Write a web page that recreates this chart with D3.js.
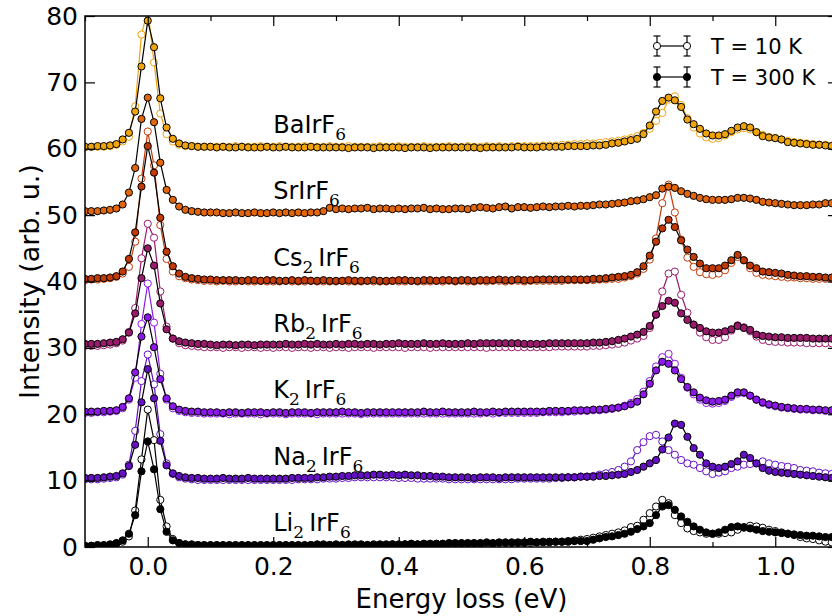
<!DOCTYPE html>
<html>
<head>
<meta charset="utf-8">
<script src="https://d3js.org/d3.v7.min.js"></script>
<style>
  body { margin: 0; background: #fff; }
  svg { display: block; font-family: "DejaVu Sans", sans-serif; }
</style>
</head>
<body>
<script>
var W = 832, H = 616;

// energy grid (eV)
var energy = [
 -0.10,-0.09,-0.08,-0.07,-0.06,-0.05,-0.04,-0.03,-0.02,-0.01,
 0.00,0.01,0.02,0.03,0.04,0.05,0.06,0.07,0.08,0.09,
 0.10,0.11,0.12,0.13,0.14,0.15,0.16,0.17,0.18,0.19,
 0.20,0.21,0.22,0.23,0.24,0.25,0.26,0.27,0.28,0.29,
 0.30,0.31,0.32,0.33,0.34,0.35,0.36,0.37,0.38,0.39,
 0.40,0.41,0.42,0.43,0.44,0.45,0.46,0.47,0.48,0.49,
 0.50,0.51,0.52,0.53,0.54,0.55,0.56,0.57,0.58,0.59,
 0.60,0.61,0.62,0.63,0.64,0.65,0.66,0.67,0.68,0.69,
 0.70,0.71,0.72,0.73,0.74,0.75,0.76,0.77,0.78,0.79,
 0.80,0.81,0.82,0.83,0.84,0.85,0.86,0.87,0.88,0.89,
 0.90,0.91,0.92,0.93,0.94,0.95,0.96,0.97,0.98,0.99,
 1.00,1.01,1.02,1.03,1.04,1.05,1.06,1.07,1.08,1.09,
 1.10];

// intensities without vertical offset, T = 300 K
var ba300 = [
 0.3,0.3,0.4,0.4,0.5,0.7,1.4,2.4,5.6,12.4,
 19.3,15.3,7.6,3.2,1.5,0.8,0.5,0.4,0.3,0.3,
 0.3,0.2,0.3,0.2,0.2,0.3,0.2,0.2,0.2,0.3,
 0.2,0.2,0.3,0.2,0.2,0.2,0.3,0.2,0.2,0.2,
 0.2,0.2,0.1,0.2,0.2,0.2,0.1,0.2,0.2,0.2,
 0.2,0.1,0.2,0.2,0.2,0.1,0.2,0.2,0.2,0.2,
 0.2,0.2,0.2,0.1,0.2,0.2,0.2,0.2,0.2,0.3,
 0.2,0.2,0.2,0.3,0.3,0.3,0.3,0.4,0.4,0.4,
 0.4,0.5,0.5,0.6,0.8,0.9,1.1,1.3,1.5,2.2,
 3.5,5.6,7.2,7.7,7.3,6.3,4.4,3.7,3.0,2.3,
 2.0,2.0,2.2,2.7,3.2,3.4,3.2,2.5,1.9,1.7,
 1.6,1.4,1.0,0.9,0.8,0.7,0.6,0.6,0.5,0.4,
 0.4];
var sr300 = [
 0.6,0.6,0.6,0.7,0.8,1.0,1.6,3.4,7.1,14.5,
 17.7,14.0,7.9,3.8,2.3,1.3,0.8,0.6,0.5,0.4,
 0.4,0.4,0.3,0.3,0.4,0.3,0.3,0.4,0.3,0.3,
 0.4,0.3,0.4,0.3,0.4,0.3,0.4,0.4,0.6,1.1,
 0.9,1.0,0.9,1.0,1.0,1.1,0.9,1.0,1.0,0.9,
 1.0,0.9,1.0,1.0,1.1,0.9,1.0,0.9,0.9,1.0,
 1.0,0.9,1.1,1.2,1.1,1.0,1.2,1.3,1.0,1.2,
 1.2,1.1,1.2,1.3,1.2,1.3,1.3,1.4,1.3,1.4,
 1.4,1.5,1.6,1.6,1.7,1.8,1.9,2.1,2.2,2.4,
 2.7,3.0,4.0,4.3,4.1,3.6,3.2,2.9,2.6,2.4,
 2.3,2.3,2.3,2.4,2.6,2.6,2.5,2.3,2.0,1.9,
 1.8,1.7,1.6,1.5,1.5,1.5,1.6,1.6,1.8,1.8,
 1.8];
var cs300 = [
 0.4,0.4,0.5,0.5,0.6,0.8,1.5,3.4,7.4,14.3,
 20.4,16.4,9.6,4.5,2.3,1.2,0.7,0.5,0.4,0.3,
 0.3,0.2,0.2,0.2,0.2,0.1,0.2,0.2,0.1,0.2,
 0.2,0.1,0.1,0.2,0.1,0.2,0.1,0.1,0.2,0.1,
 0.1,0.1,0.2,0.1,0.1,0.1,0.2,0.1,0.1,0.1,
 0.2,0.2,0.1,0.1,0.2,0.2,0.1,0.2,0.2,0.1,
 0.2,0.2,0.1,0.2,0.2,0.2,0.3,0.2,0.2,0.3,
 0.2,0.2,0.3,0.3,0.3,0.3,0.3,0.3,0.3,0.3,
 0.3,0.4,0.4,0.5,0.6,0.7,0.8,1.0,1.4,2.3,
 3.9,6.0,8.0,9.3,8.2,6.2,4.8,3.7,2.7,2.0,
 2.0,2.0,2.4,3.2,4.0,3.2,2.4,2.0,1.5,1.4,
 1.3,1.2,1.0,0.9,0.8,0.8,0.7,0.7,0.6,0.6,
 0.6];
var rb300 = [
 0.6,0.6,0.6,0.7,0.8,0.9,1.3,2.3,5.2,10.5,
 15.0,12.4,6.7,2.8,1.4,1.0,0.8,0.7,0.6,0.6,
 0.5,0.4,0.5,0.5,0.4,0.5,0.5,0.4,0.5,0.5,
 0.5,0.5,0.6,0.5,0.5,0.6,0.5,0.6,0.5,0.5,
 0.6,0.5,0.6,0.6,0.5,0.6,0.6,0.5,0.6,0.6,
 0.7,0.6,0.6,0.6,0.7,0.6,0.6,0.7,0.6,0.6,
 0.6,0.7,0.6,0.7,0.7,0.7,0.7,0.7,0.7,0.7,
 0.6,0.6,0.6,0.6,0.7,0.7,0.7,0.7,0.7,0.7,
 0.7,0.8,0.8,0.9,1.0,1.2,1.4,1.7,2.0,2.4,
 3.3,5.0,6.3,7.1,6.8,5.2,4.2,3.5,3.0,2.5,
 2.3,2.3,2.5,2.8,3.3,3.0,2.7,2.0,1.8,1.7,
 1.6,1.6,1.5,1.5,1.5,1.5,1.4,1.4,1.4,1.4,
 1.4];
var k300 = [
 0.4,0.4,0.4,0.5,0.5,0.6,1.1,2.4,6.3,11.7,
 14.6,10.1,5.3,2.4,1.2,0.7,0.5,0.4,0.4,0.3,
 0.3,0.3,0.2,0.3,0.3,0.2,0.3,0.3,0.3,0.2,
 0.3,0.3,0.2,0.3,0.3,0.3,0.2,0.3,0.3,0.3,
 0.3,0.4,0.3,0.3,0.2,0.3,0.3,0.3,0.3,0.3,
 0.3,0.3,0.3,0.3,0.4,0.3,0.3,0.4,0.3,0.3,
 0.3,0.3,0.4,0.3,0.3,0.4,0.3,0.4,0.4,0.4,
 0.4,0.4,0.4,0.4,0.5,0.5,0.5,0.5,0.6,0.6,
 0.6,0.7,0.7,0.8,0.9,1.0,1.2,1.5,1.9,3.0,
 4.6,6.6,7.9,7.6,6.6,5.3,4.1,3.3,2.5,2.1,
 1.9,2.0,2.2,2.8,3.3,3.3,2.8,2.2,1.8,1.5,
 1.3,1.1,1.0,0.9,0.8,0.8,0.7,0.7,0.6,0.6,
 0.6];
var na300 = [
 0.4,0.4,0.4,0.5,0.6,0.7,1.1,2.2,5.4,11.8,
 16.8,12.4,6.0,2.3,1.1,0.7,0.5,0.4,0.4,0.3,
 0.3,0.3,0.4,0.3,0.3,0.3,0.4,0.3,0.3,0.3,
 0.3,0.3,0.3,0.4,0.4,0.4,0.4,0.5,0.5,0.6,
 0.6,0.7,0.7,0.8,0.8,0.8,0.9,0.9,0.8,0.9,
 0.8,0.9,0.8,0.8,0.7,0.7,0.6,0.6,0.5,0.5,
 0.5,0.5,0.4,0.5,0.5,0.5,0.4,0.5,0.5,0.5,
 0.5,0.5,0.5,0.5,0.5,0.5,0.5,0.5,0.5,0.6,
 0.6,0.6,0.7,0.7,0.8,0.9,1.0,1.3,1.6,2.1,
 2.6,3.1,4.7,6.5,8.6,8.4,6.6,4.9,3.9,2.6,
 2.1,1.9,2.1,2.5,2.9,3.9,3.4,2.6,1.9,1.5,
 1.3,1.2,1.1,1.0,0.9,0.8,0.7,0.6,0.5,0.4,
 0.4];
var li300 = [
 0.2,0.2,0.3,0.3,0.4,0.6,1.0,2.0,4.8,11.4,
 15.9,11.7,5.7,2.3,1.0,0.6,0.4,0.4,0.3,0.3,
 0.3,0.3,0.3,0.3,0.3,0.3,0.3,0.3,0.3,0.3,
 0.3,0.3,0.3,0.3,0.3,0.3,0.3,0.4,0.4,0.3,
 0.4,0.3,0.4,0.4,0.4,0.3,0.4,0.4,0.4,0.4,
 0.4,0.4,0.5,0.4,0.5,0.5,0.5,0.5,0.6,0.6,
 0.6,0.6,0.6,0.6,0.7,0.6,0.7,0.7,0.7,0.7,
 0.7,0.8,0.7,0.8,0.8,0.8,0.8,0.8,0.9,0.9,
 0.9,1.1,1.3,1.5,1.6,1.8,2.0,2.3,2.7,3.1,
 3.6,4.8,6.1,6.3,5.6,4.6,3.8,3.1,2.6,2.2,
 2.0,2.2,2.6,3.0,3.1,3.0,2.8,2.6,2.4,2.3,
 2.2,2.1,2.0,1.9,1.8,1.7,1.7,1.6,1.5,1.5,
 1.5];

// T = 10 K (no 10 K scan for SrIrF6)
var ba10 = [
 0.2,0.3,0.3,0.3,0.4,0.6,1.1,1.8,6.4,17.2,
 21.0,13.0,5.3,2.2,1.1,0.6,0.4,0.4,0.3,0.3,
 0.3,0.3,0.3,0.3,0.4,0.3,0.3,0.3,0.4,0.3,
 0.3,0.4,0.3,0.3,0.3,0.4,0.3,0.3,0.3,0.4,
 0.3,0.3,0.4,0.3,0.3,0.3,0.3,0.4,0.3,0.3,
 0.4,0.3,0.3,0.3,0.4,0.3,0.3,0.3,0.4,0.3,
 0.3,0.4,0.3,0.3,0.4,0.3,0.4,0.3,0.4,0.4,
 0.4,0.4,0.4,0.5,0.5,0.5,0.6,0.6,0.7,0.7,
 0.8,0.8,0.9,1.0,1.1,1.2,1.4,1.6,1.9,2.4,
 3.0,4.2,5.4,7.4,7.9,6.6,4.6,3.2,2.3,1.7,
 1.5,1.6,2.0,2.5,2.9,3.1,2.9,2.5,2.1,1.8,
 1.6,1.4,1.2,1.0,0.9,0.8,0.7,0.6,0.6,0.5,
 0.5];
var cs10 = [
 0.2,0.3,0.3,0.4,0.5,0.7,1.2,2.2,6.0,15.5,
 22.6,17.5,8.5,3.4,1.5,0.8,0.5,0.3,0.2,0.1,
 0.1,0.0,0.1,0.0,0.0,0.1,0.0,0.0,0.1,0.0,
 0.0,0.0,0.1,0.0,0.0,0.0,0.1,0.0,0.0,0.0,
 0.0,0.1,0.0,0.0,0.0,0.1,0.0,0.0,0.0,0.1,
 0.0,0.0,0.1,0.0,0.0,0.0,0.1,0.0,0.1,0.0,
 0.1,0.0,0.0,0.1,0.0,0.1,0.1,0.0,0.1,0.1,
 0.0,0.1,0.1,0.1,0.1,0.1,0.1,0.2,0.2,0.2,
 0.2,0.2,0.3,0.3,0.4,0.4,0.6,0.8,1.2,1.9,
 3.3,6.5,11.8,14.6,10.4,6.3,3.6,2.2,1.4,1.1,
 1.0,1.2,1.7,2.8,3.7,3.2,2.0,1.3,1.0,0.9,
 0.8,0.7,0.6,0.6,0.5,0.5,0.4,0.4,0.4,0.4,
 0.4];
var rb10 = [
 0.3,0.3,0.3,0.4,0.5,0.7,1.1,2.4,6.0,13.5,
 18.7,16.6,8.5,3.2,1.4,0.7,0.4,0.3,0.2,0.1,
 0.1,0.1,0.0,0.1,0.1,0.0,0.1,0.1,0.0,0.1,
 0.0,0.1,0.1,0.0,0.1,0.1,0.0,0.1,0.1,0.0,
 0.1,0.1,0.0,0.1,0.1,0.1,0.0,0.1,0.1,0.1,
 0.1,0.0,0.1,0.1,0.1,0.0,0.1,0.1,0.1,0.1,
 0.1,0.1,0.1,0.1,0.0,0.1,0.1,0.1,0.1,0.1,
 0.1,0.1,0.1,0.1,0.1,0.2,0.2,0.2,0.2,0.2,
 0.2,0.3,0.3,0.4,0.5,0.6,0.8,1.1,1.4,1.8,
 3.0,5.0,8.5,11.2,11.5,8.0,5.3,3.5,2.3,1.6,
 1.2,1.2,1.6,2.6,3.4,3.1,2.5,1.7,1.2,1.0,
 0.9,0.9,0.8,0.8,0.8,0.7,0.7,0.7,0.7,0.7,
 0.7];
var k10 = [
 0.2,0.2,0.3,0.3,0.4,0.5,0.9,2.2,5.5,13.6,
 19.7,13.8,6.1,2.2,0.9,0.5,0.3,0.2,0.2,0.1,
 0.1,0.1,0.1,0.0,0.1,0.1,0.1,0.1,0.0,0.1,
 0.1,0.1,0.0,0.1,0.1,0.1,0.1,0.0,0.1,0.1,
 0.1,0.1,0.1,0.1,0.0,0.1,0.1,0.1,0.1,0.1,
 0.1,0.1,0.1,0.1,0.1,0.1,0.1,0.1,0.1,0.1,
 0.1,0.1,0.1,0.1,0.2,0.1,0.2,0.2,0.2,0.2,
 0.2,0.2,0.2,0.3,0.3,0.3,0.3,0.4,0.4,0.5,
 0.5,0.6,0.6,0.7,0.8,1.0,1.3,1.7,2.3,3.4,
 5.0,7.2,8.6,9.1,7.6,5.5,4.0,3.0,2.2,1.7,
 1.6,1.7,2.0,2.6,3.1,3.2,2.8,2.2,1.7,1.4,
 1.2,1.0,0.9,0.8,0.7,0.7,0.6,0.6,0.5,0.5,
 0.5];
var na10 = [
 0.2,0.2,0.2,0.3,0.4,0.5,0.9,2.4,7.5,15.0,
 19.0,14.5,7.0,2.6,1.0,0.5,0.3,0.2,0.1,0.1,
 0.1,0.1,0.1,0.1,0.1,0.1,0.1,0.1,0.1,0.1,
 0.1,0.1,0.1,0.1,0.2,0.2,0.2,0.2,0.3,0.3,
 0.3,0.4,0.4,0.5,0.5,0.5,0.5,0.5,0.5,0.5,
 0.4,0.4,0.4,0.3,0.3,0.3,0.3,0.3,0.2,0.2,
 0.2,0.2,0.2,0.2,0.2,0.2,0.2,0.2,0.2,0.3,
 0.3,0.3,0.3,0.3,0.3,0.4,0.4,0.5,0.5,0.6,
 0.6,0.7,0.9,1.1,1.3,1.6,2.1,2.9,4.6,5.8,
 6.7,6.9,5.9,4.6,3.9,3.1,2.6,2.4,1.9,1.4,
 1.0,1.2,1.4,1.9,2.1,2.4,2.5,2.6,2.9,2.6,
 2.4,2.2,2.1,1.9,1.6,1.5,1.4,1.2,1.1,1.0,
 1.0];
var li10 = [
 0.1,0.1,0.2,0.2,0.3,0.5,0.8,1.6,5.5,13.2,
 20.7,16.1,7.1,3.1,1.2,0.6,0.4,0.3,0.3,0.2,
 0.2,0.2,0.2,0.2,0.2,0.2,0.2,0.2,0.2,0.2,
 0.2,0.2,0.2,0.2,0.2,0.2,0.3,0.2,0.3,0.3,
 0.3,0.3,0.3,0.3,0.3,0.3,0.3,0.3,0.3,0.4,
 0.3,0.4,0.4,0.4,0.4,0.4,0.4,0.4,0.5,0.5,
 0.5,0.5,0.5,0.5,0.5,0.5,0.6,0.6,0.6,0.6,
 0.6,0.6,0.7,0.7,0.7,0.8,0.8,0.9,1.0,1.1,
 1.2,1.4,1.6,1.8,2.0,2.2,2.5,3.0,3.2,4.1,
 5.1,6.1,7.1,6.6,4.8,3.6,2.8,2.4,2.2,2.0,
 2.0,2.0,2.1,2.2,2.6,2.9,3.2,3.1,2.9,2.6,
 2.4,2.2,2.0,1.8,1.5,1.3,1.2,1.0,0.8,0.7,
 0.7];

// compounds, bottom to top
var compounds = ["Li", "Na", "K", "Rb", "Cs", "Sr", "Ba"];
var offsets = [0, 10, 20, 30, 40, 50, 60];
var colors = ["#000000", "#6410c4", "#8c18ea", "#9a1a6c", "#c23a06", "#e2660c", "#f0a40c"];
var cold = [li10, na10, k10, rb10, cs10, null, ba10];
var warm = [li300, na300, k300, rb300, cs300, sr300, ba300];
// label pieces: [text, subscript?]
var labels = [
  [["Li",0],["2",1],["IrF",0],["6",1]],
  [["Na",0],["2",1],["IrF",0],["6",1]],
  [["K",0],["2",1],["IrF",0],["6",1]],
  [["Rb",0],["2",1],["IrF",0],["6",1]],
  [["Cs",0],["2",1],["IrF",0],["6",1]],
  [["SrIrF",0],["6",1]],
  [["BaIrF",0],["6",1]]
];

var xTicks = [0.0, 0.2, 0.4, 0.6, 0.8, 1.0];
var xMinor = [-0.1, 0.1, 0.3, 0.5, 0.7, 0.9, 1.1];
var yTicks = [0, 10, 20, 30, 40, 50, 60, 70, 80];
var legendItems = ["T = 10 K", "T = 300 K"];

var x = d3.scaleLinear().domain([-0.1, 1.1]).range([85, 838]);
var y = d3.scaleLinear().domain([0, 80]).range([547, 16]);

var svg = d3.select("body").append("svg")
    .attr("width", W)
    .attr("height", H);

svg.append("clipPath").attr("id", "plotclip")
  .append("rect")
    .attr("x", x.range()[0]).attr("y", y.range()[1])
    .attr("width", x.range()[1] - x.range()[0])
    .attr("height", y.range()[0] - y.range()[1]);

var plot = svg.append("g").attr("clip-path", "url(#plotclip)");
var R = 3.6;

compounds.forEach(function(c, i) {
  var off = offsets[i];
  var line = d3.line()
      .x(function(d, j) { return x(energy[j]); })
      .y(function(d) { return y(d + off); });

  // 10 K: open symbols, coloured line
  if (cold[i]) {
    var g10 = plot.append("g").attr("class", "cold-" + c);
    g10.append("path")
        .attr("d", line(cold[i]))
        .attr("fill", "none")
        .attr("stroke", colors[i])
        .attr("stroke-width", 1.2);
    g10.selectAll("circle")
      .data(cold[i])
      .enter().append("circle")
        .attr("cx", function(d, j) { return x(energy[j]); })
        .attr("cy", function(d) { return y(d + off); })
        .attr("r", R)
        .attr("fill", "white")
        .attr("stroke", colors[i])
        .attr("stroke-width", 1);
  }

  // 300 K: filled symbols, black line
  var g300 = plot.append("g").attr("class", "warm-" + c);
  g300.append("path")
      .attr("d", line(warm[i]))
      .attr("fill", "none")
      .attr("stroke", "black")
      .attr("stroke-width", 1.2);
  g300.selectAll("circle")
    .data(warm[i])
    .enter().append("circle")
      .attr("cx", function(d, j) { return x(energy[j]); })
      .attr("cy", function(d) { return y(d + off); })
      .attr("r", R)
      .attr("fill", colors[i])
      .attr("stroke", "black")
      .attr("stroke-width", 1);
});

// compound names
labels.forEach(function(parts, i) {
  var t = svg.append("text")
      .attr("x", x(0.2))
      .attr("y", y(offsets[i] + 2.4))
      .attr("font-size", 24)
      .attr("fill", "black");
  var sub = false;
  parts.forEach(function(p) {
    var ts = t.append("tspan").text(p[0]);
    if (p[1]) {
      ts.attr("font-family", "'DejaVu Serif', serif")
        .attr("font-size", 17)
        .attr("dy", 7);
      sub = true;
    } else if (sub) {
      ts.attr("dy", -7).attr("dx", 5);
      sub = false;
    }
  });
});

// axes, ticks pointing in
function styleAxis(g) {
  g.select(".domain").remove();
  g.selectAll(".tick line").attr("stroke", "black").attr("stroke-width", 1.2);
  g.selectAll(".tick text")
    .attr("font-family", "DejaVu Sans")
    .attr("font-size", 25)
    .attr("fill", "black");
}

svg.append("g")
    .attr("transform", "translate(0," + y(0) + ")")
    .call(d3.axisBottom(x).tickValues(xTicks).tickSize(-10).tickPadding(10)
      .tickFormat(d3.format(".1f")))
    .call(styleAxis);
svg.append("g")
    .attr("transform", "translate(0," + y(0) + ")")
    .call(d3.axisBottom(x).tickValues(xMinor).tickSize(-5).tickFormat(""))
    .call(styleAxis);
svg.append("g")
    .attr("transform", "translate(0," + y(80) + ")")
    .call(d3.axisTop(x).tickValues(xTicks).tickSize(-10).tickFormat(""))
    .call(styleAxis);
svg.append("g")
    .attr("transform", "translate(0," + y(80) + ")")
    .call(d3.axisTop(x).tickValues(xMinor).tickSize(-5).tickFormat(""))
    .call(styleAxis);
svg.append("g")
    .attr("transform", "translate(" + x(-0.1) + ",0)")
    .call(d3.axisLeft(y).tickValues(yTicks).tickSize(-10).tickPadding(7)
      .tickFormat(d3.format("d")))
    .call(styleAxis);
svg.append("g")
    .attr("transform", "translate(" + x(1.1) + ",0)")
    .call(d3.axisRight(y).tickValues(yTicks).tickSize(-10).tickFormat(""))
    .call(styleAxis);

// frame
svg.append("rect")
    .attr("x", x(-0.1)).attr("y", y(80))
    .attr("width", x(1.1) - x(-0.1))
    .attr("height", y(0) - y(80))
    .attr("fill", "none")
    .attr("stroke", "black")
    .attr("stroke-width", 1.5);

svg.append("text")
    .attr("x", (x(-0.1) + x(1.1)) / 2)
    .attr("y", 608)
    .attr("text-anchor", "middle")
    .attr("font-size", 26)
    .text("Energy loss (eV)");

svg.append("text")
    .attr("transform", "translate(39," + ((y(0) + y(80)) / 2) + ") rotate(-90)")
    .attr("text-anchor", "middle")
    .attr("font-size", 27)
    .text("Intensity (arb. u.)");

// legend
var leg = svg.append("g").attr("class", "legend");
legendItems.forEach(function(label, i) {
  var cy = 46 + i * 31;
  var g = leg.append("g");
  g.append("line")
      .attr("x1", 657).attr("x2", 687)
      .attr("y1", cy).attr("y2", cy)
      .attr("stroke", "black").attr("stroke-width", 1.2);
  [657, 687].forEach(function(cx) {
    g.append("line")
        .attr("x1", cx).attr("x2", cx)
        .attr("y1", cy - 10).attr("y2", cy + 10)
        .attr("stroke", "black").attr("stroke-width", 1.2);
    g.append("line")
        .attr("x1", cx - 3.5).attr("x2", cx + 3.5)
        .attr("y1", cy - 10).attr("y2", cy - 10)
        .attr("stroke", "black").attr("stroke-width", 1.2);
    g.append("line")
        .attr("x1", cx - 3.5).attr("x2", cx + 3.5)
        .attr("y1", cy + 10).attr("y2", cy + 10)
        .attr("stroke", "black").attr("stroke-width", 1.2);
    g.append("circle")
        .attr("cx", cx).attr("cy", cy).attr("r", R)
        .attr("fill", i === 0 ? "white" : "black")
        .attr("stroke", "black").attr("stroke-width", 1);
  });
  g.append("text")
      .attr("x", 711).attr("y", cy + 7.5)
      .attr("font-size", 21)
      .text(label);
});
</script>
</body>
</html>
